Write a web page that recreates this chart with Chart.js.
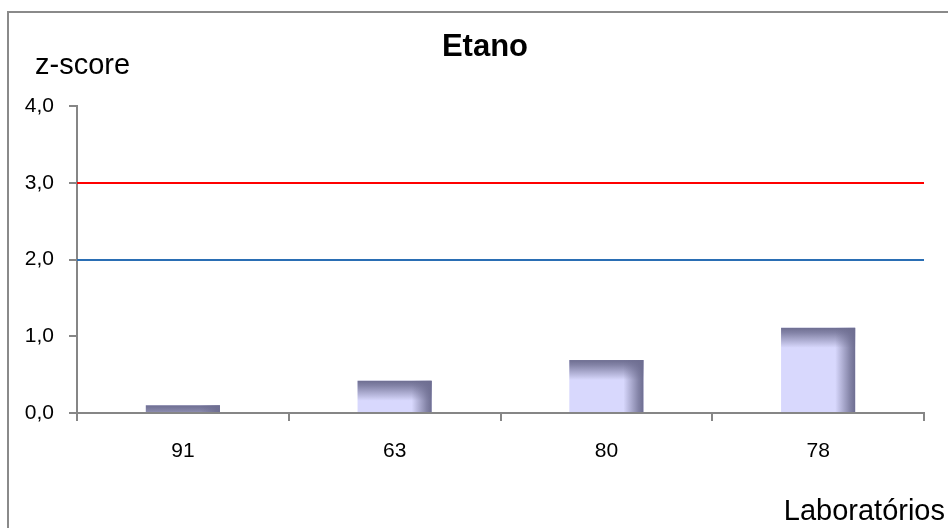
<!DOCTYPE html>
<html>
<head>
<meta charset="utf-8">
<script src="https://cdn.jsdelivr.net/npm/chart.js@4/dist/chart.umd.min.js"></script>
<style>
  html, body { margin: 0; padding: 0; background: #fff; overflow: hidden; }
  #frame { position: absolute; left: 7px; top: 11px; width: 1000px; height: 600px; border: 2px solid #8a8a8a; }
  #chart { position: absolute; left: 0; top: 0; }
</style>
</head>
<body>
<div id="frame"></div>
<canvas id="chart" width="948" height="528"></canvas>
<script>
// data
const labs = ['91', '63', '80', '78'];
const zscores = [0.1, 0.42, 0.69, 1.11];
const limit_values = [3, 2];
const limit_colors = ['#ff0000', '#2a6eb4'];

const title_text = 'Etano';
const y_title = 'z-score';
const x_title = 'Laboratórios';

const axis_gray = '#868686';
const bar_light = '#d8d8fd';
const bar_dark = 'rgba(110,110,145,1)';
const bar_clear = 'rgba(110,110,145,0)';

// red / blue limit lines across the plot
const limitLines = {
    id: 'limitLines',
    beforeDatasetsDraw(chart) {
        const ctx = chart.ctx;
        const area = chart.chartArea;
        const y = chart.scales.y;
        ctx.save();
        ctx.lineWidth = 2;
        limit_values.forEach(function(v, i) {
            const py = Math.round(y.getPixelForValue(v));
            ctx.strokeStyle = limit_colors[i];
            ctx.beginPath();
            ctx.moveTo(area.left, py);
            ctx.lineTo(area.right, py);
            ctx.stroke();
        });
        ctx.restore();
    }
};

// dark bevel on top and right edge of each bar
const barBevel = {
    id: 'barBevel',
    afterDatasetsDraw(chart) {
        const ctx = chart.ctx;
        const meta = chart.getDatasetMeta(0);
        ctx.save();
        meta.data.forEach(function(bar) {
            const left = bar.x - bar.width / 2;
            const right = bar.x + bar.width / 2;
            const top = bar.y;
            const bottom = bar.base;
            const h = bottom - top;
            const band = 20;

            let g = ctx.createLinearGradient(0, top, 0, top + band);
            g.addColorStop(0, bar_dark);
            g.addColorStop(0.25, 'rgba(110,110,145,0.8)');
            g.addColorStop(1, bar_clear);
            ctx.fillStyle = g;
            ctx.fillRect(left, top, bar.width, Math.min(band, h));

            g = ctx.createLinearGradient(right - band, 0, right, 0);
            g.addColorStop(0, bar_clear);
            g.addColorStop(0.75, 'rgba(110,110,145,0.8)');
            g.addColorStop(1, bar_dark);
            ctx.fillStyle = g;
            ctx.fillRect(right - band, top, band, h);
        });
        ctx.restore();
    }
};

// title and axis titles in the same places as the original
const chartTexts = {
    id: 'chartTexts',
    afterDraw(chart) {
        const ctx = chart.ctx;
        ctx.save();
        ctx.fillStyle = '#000';
        ctx.textBaseline = 'alphabetic';
        ctx.font = 'bold 31px "Liberation Sans", Arial, sans-serif';
        ctx.textAlign = 'center';
        ctx.fillText(title_text, 485, 56);
        ctx.font = '29px "Liberation Sans", Arial, sans-serif';
        ctx.textAlign = 'left';
        ctx.fillText(y_title, 35, 74);
        ctx.textAlign = 'right';
        ctx.fillText(x_title, 945, 520);
        ctx.restore();
    }
};

window.onload = function() {
    const ctx = document.getElementById('chart').getContext('2d');
    new Chart(ctx, {
        type: 'bar',
        data: {
            labels: labs,
            datasets: [{
                data: zscores,
                backgroundColor: bar_light,
                borderWidth: 0,
                barPercentage: 0.35,
                categoryPercentage: 1.0
            }]
        },
        options: {
            responsive: false,
            animation: false,
            devicePixelRatio: 1,
            layout: { padding: { left: 0, right: 24, top: 106, bottom: 0 } },
            plugins: {
                legend: { display: false },
                title: { display: false },
                tooltip: { enabled: false }
            },
            scales: {
                x: {
                    afterFit(scale) { scale.height = 115; },
                    grid: { drawOnChartArea: false, drawTicks: true, tickLength: 8, color: axis_gray, lineWidth: 2, offset: true },
                    border: { display: true, color: axis_gray, width: 2 },
                    ticks: { color: '#000', padding: 18, font: { family: '"Liberation Sans", Arial, sans-serif', size: 21 } }
                },
                y: {
                    min: 0,
                    max: 4,
                    afterFit(scale) { scale.width = 77; },
                    grid: { drawOnChartArea: false, drawTicks: true, tickLength: 8, color: axis_gray, lineWidth: 2 },
                    border: { display: true, color: axis_gray, width: 2 },
                    ticks: {
                        stepSize: 1,
                        color: '#000',
                        padding: 15,
                        font: { family: '"Liberation Sans", Arial, sans-serif', size: 21 },
                        callback: function(v) { return v.toFixed(1).replace('.', ','); }
                    }
                }
            }
        },
        plugins: [limitLines, barBevel, chartTexts]
    });
};
</script>
</body>
</html>
